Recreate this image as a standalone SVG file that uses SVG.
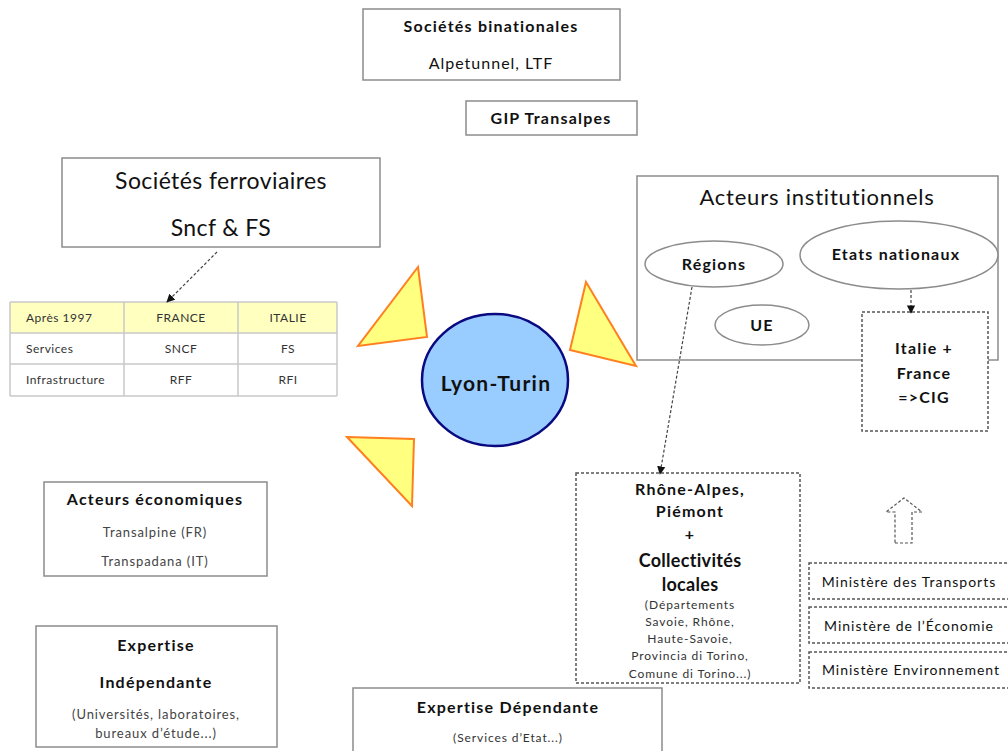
<svg xmlns="http://www.w3.org/2000/svg" width="1008" height="751" viewBox="0 0 1008 751">
<style>
text{font-family:Lato,"Open Sans","Liberation Sans",sans-serif;text-anchor:middle;fill:#111}
.b{font-weight:bold;font-size:16px;letter-spacing:1.2px}
.r{font-size:13px;letter-spacing:0.9px;fill:#444}
.s{font-size:12px;letter-spacing:0.9px;fill:#333}
.t{font-size:12px;letter-spacing:0.5px;fill:#333}
.box{fill:#fff;stroke:#8c8c8c;stroke-width:1.5}
.dbox{fill:#fff;stroke:#555;stroke-width:1.5;stroke-dasharray:3 2}
.ell{fill:#fff;stroke:#8c8c8c;stroke-width:1.5}
.tri{fill:#ffff80;stroke:#ff8020;stroke-width:2}
.cell{stroke:#c8c8c8;stroke-width:1.5}
.conn{fill:none;stroke:#444;stroke-width:1.2;stroke-dasharray:3 2}
</style>
<defs>
<marker id="ah" viewBox="0 0 10 10" refX="9" refY="5" markerWidth="7" markerHeight="7" orient="auto"><path d="M0,0 L10,5 L0,10 z" fill="#111"/></marker>
</defs>
<rect width="1008" height="751" fill="#fff"/>

<g id="binationales">
<rect class="box" x="363" y="9" width="257" height="71"/>
<text class="b" x="491" y="32">Sociétés binationales</text>
<text x="491" y="69" font-size="16" letter-spacing="1" fill="#333">Alpetunnel, LTF</text>
</g>
<g id="gip">
<rect class="box" x="466" y="101" width="171" height="34"/>
<text class="b" x="551" y="124">GIP Transalpes</text>
</g>
<g id="ferroviaires">
<rect class="box" x="62" y="158" width="318" height="89"/>
<text x="221" y="189" font-size="23" letter-spacing="0.4" fill="#222">Sociétés ferroviaires</text>
<text x="221" y="236" font-size="23" letter-spacing="0.4" fill="#222">Sncf &amp; FS</text>
</g>
<g id="table">
<rect x="10" y="302" width="327" height="31" fill="#ffffc0"/>
<rect x="10" y="333" width="327" height="63" fill="#fff"/>
<g class="cell">
<line x1="10" y1="302" x2="337" y2="302"/>
<line x1="10" y1="333" x2="337" y2="333"/>
<line x1="10" y1="364" x2="337" y2="364"/>
<line x1="10" y1="396" x2="337" y2="396"/>
<line x1="10" y1="302" x2="10" y2="396"/>
<line x1="124" y1="302" x2="124" y2="396"/>
<line x1="238" y1="302" x2="238" y2="396"/>
<line x1="337" y1="302" x2="337" y2="396"/>
</g>
<text class="t" x="26" y="322" style="text-anchor:start">Après 1997</text>
<text class="t" x="181" y="322">FRANCE</text>
<text class="t" x="288" y="322">ITALIE</text>
<text class="t" x="26" y="353" style="text-anchor:start">Services</text>
<text class="t" x="181" y="353">SNCF</text>
<text class="t" x="288" y="353">FS</text>
<text class="t" x="26" y="384" style="text-anchor:start">Infrastructure</text>
<text class="t" x="181" y="384">RFF</text>
<text class="t" x="288" y="384">RFI</text>
</g>

<g id="triangles">
<polygon class="tri" points="418,267 427,337 358,346"/>
<polygon class="tri" points="586,282 636,366 570,350"/>
<polygon class="tri" points="347,437 414,439 412,506"/>
</g>
<g id="lyon-turin">
<ellipse cx="495" cy="380" rx="73" ry="66" fill="#99ccff" stroke="#0a0a80" stroke-width="2.5"/>
<text x="496" y="391" font-size="21" font-weight="bold" letter-spacing="1.3" fill="#2b3580">Lyon-Turin</text>
</g>

<g id="institutionnels">
<rect class="box" x="637" y="176" width="361" height="184"/>
<text x="817" y="205" font-size="22" letter-spacing="0.8" fill="#222">Acteurs institutionnels</text>
</g>
<g id="regions">
<ellipse class="ell" cx="714" cy="264" rx="69" ry="23"/>
<text class="b" x="714" y="270">Régions</text>
</g>
<g id="etats">
<ellipse class="ell" cx="899" cy="255" rx="99" ry="34"/>
<text class="b" x="896" y="260">Etats nationaux</text>
</g>
<g id="ue">
<ellipse class="ell" cx="762" cy="325" rx="47" ry="20"/>
<text class="b" x="762" y="331">UE</text>
</g>
<g id="cig">
<rect class="dbox" x="862" y="312" width="126" height="119"/>
<text class="b" x="924" y="354">Italie +</text>
<text class="b" x="924" y="379">France</text>
<text class="b" x="924" y="403">=&gt;CIG</text>
</g>

<g id="rhone-alpes">
<rect class="dbox" x="576" y="473" width="224" height="210"/>
<text class="b" x="690" y="495" letter-spacing="1.4">Rhône-Alpes,</text>
<text class="b" x="690" y="517" letter-spacing="1.4">Piémont</text>
<text class="b" x="690" y="540">+</text>
<text x="690" y="567" font-size="18" font-weight="bold" letter-spacing="0.3">Collectivités</text>
<text x="690" y="591" font-size="18" font-weight="bold" letter-spacing="0.3">locales</text>
<text class="s" x="690" y="609">(Départements</text>
<text class="s" x="690" y="626">Savoie, Rhône,</text>
<text class="s" x="690" y="643">Haute-Savoie,</text>
<text class="s" x="690" y="660">Provincia di Torino,</text>
<text class="s" x="690" y="678">Comune di Torino...)</text>
</g>

<g id="up-arrow">
<polygon points="895,543 912,543 912,512 922,512 904,498 886,512 895,512" fill="#fff" stroke="#555" stroke-width="1.2" stroke-dasharray="3 2"/>
</g>
<g id="min-transports">
<rect class="dbox" x="809" y="563" width="205" height="36"/>
<text x="909" y="587" font-size="14" letter-spacing="1" fill="#444">Ministère des Transports</text>
</g>
<g id="min-economie">
<rect class="dbox" x="809" y="607" width="205" height="36"/>
<text x="909" y="631" font-size="14" letter-spacing="1" fill="#444">Ministère de l’Économie</text>
</g>
<g id="min-environnement">
<rect class="dbox" x="809" y="652" width="205" height="36"/>
<text x="911" y="675" font-size="14" letter-spacing="1" fill="#222">Ministère Environnement</text>
</g>

<g id="economiques">
<rect class="box" x="44" y="482" width="223" height="94"/>
<text class="b" x="155" y="505">Acteurs économiques</text>
<text class="r" x="155" y="537">Transalpine (FR)</text>
<text class="r" x="155" y="566">Transpadana (IT)</text>
</g>
<g id="expertise-indep">
<rect class="box" x="36" y="626" width="241" height="121"/>
<text class="b" x="156" y="651" letter-spacing="1.4">Expertise</text>
<text class="b" x="156" y="688" letter-spacing="1.4">Indépendante</text>
<text class="r" x="156" y="719">(Universités, laboratoires,</text>
<text class="r" x="156" y="738">bureaux d’étude...)</text>
</g>
<g id="expertise-dep">
<rect class="box" x="353" y="688" width="309" height="70"/>
<text class="b" x="508" y="713">Expertise Dépendante</text>
<text class="s" x="508" y="742" letter-spacing="1.1">(Services d’Etat...)</text>
</g>

<g id="connectors">
<line class="conn" x1="217" y1="252" x2="167" y2="302" marker-end="url(#ah)"/>
<line class="conn" x1="692" y1="287" x2="660" y2="474" marker-end="url(#ah)"/>
<line class="conn" x1="911" y1="290" x2="911" y2="313" marker-end="url(#ah)"/>
</g>
</svg>
